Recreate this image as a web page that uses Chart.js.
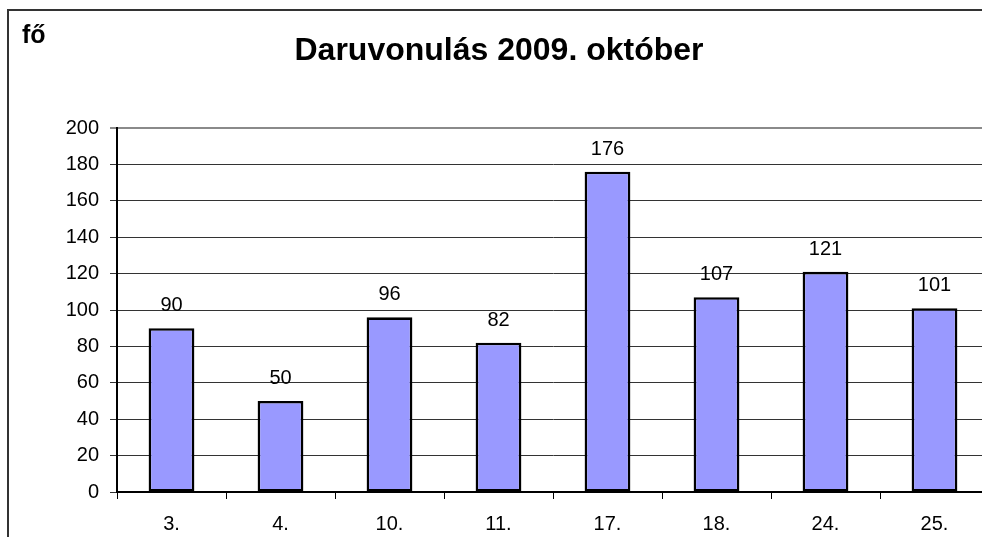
<!DOCTYPE html>
<html>
<head>
<meta charset="utf-8">
<script src="https://cdn.jsdelivr.net/npm/chart.js@4/dist/chart.umd.min.js"></script>
<style>
  html, body { margin: 0; padding: 0; background: #fff; overflow: hidden; width: 982px; height: 537px; }
  #frame { position: absolute; left: 7px; top: 9px; border-left: 2px solid #333; border-top: 2px solid #333; width: 1000px; height: 600px; }
  #c { position: absolute; left: 0; top: 0; }
</style>
</head>
<body>
<div id="frame"><canvas id="c" width="988" height="560"></canvas></div>
<script>
const categories = ['3.', '4.', '10.', '11.', '17.', '18.', '24.', '25.'];
const values = [90, 50, 96, 82, 176, 107, 121, 101];
const titleText = 'Daruvonulás 2009. október';
const unitLabel = 'fő';
const yMin = 0, yMax = 200, yStep = 20;

const FONT = "'Liberation Sans', Arial, sans-serif";

const labelPlugin = {
  id: 'barLabels',
  afterDatasetsDraw(chart) {
    const ctx = chart.ctx;
    const meta = chart.getDatasetMeta(0);
    ctx.save();
    ctx.font = '20px ' + FONT;
    ctx.fillStyle = '#000';
    ctx.textAlign = 'center';
    ctx.textBaseline = 'alphabetic';
    meta.data.forEach((bar, i) => {
      ctx.fillText(String(values[i]), bar.x, bar.y - 17);
    });
    ctx.restore();
  }
};

const unitPlugin = {
  id: 'unitLabel',
  afterDraw(chart) {
    const ctx = chart.ctx;
    ctx.save();
    ctx.font = 'bold 25px ' + FONT;
    ctx.fillStyle = '#000';
    ctx.textAlign = 'left';
    ctx.textBaseline = 'alphabetic';
    ctx.fillText(unitLabel, 13, 32);
    ctx.restore();
  }
};

new Chart(document.getElementById('c'), {
  type: 'bar',
  data: {
    labels: categories,
    datasets: [{
      data: values,
      backgroundColor: '#9999FF',
      borderColor: '#000',
      borderWidth: 2.6,
      borderSkipped: false,
      barPercentage: 0.42,
      categoryPercentage: 1.0
    }]
  },
  options: {
    responsive: false,
    devicePixelRatio: 1,
    animation: false,
    layout: { padding: { left: 0, right: 8, top: 0, bottom: 0 } },
    plugins: {
      legend: { display: false },
      tooltip: { enabled: false },
      title: {
        display: true,
        text: titleText,
        color: '#000',
        font: { family: FONT, size: 32, weight: 'bold', lineHeight: 1.25 },
        padding: { top: 20, bottom: 57 }
      }
    },
    scales: {
      x: {
        offset: true,
        afterFit(scale) { scale.height = 79; },
        grid: {
          offset: true,
          drawOnChartArea: false,
          drawTicks: true,
          tickLength: 7,
          color: '#000',
          lineWidth: 1
        },
        border: { display: true, color: '#000', width: 2 },
        ticks: {
          color: '#000',
          font: { family: FONT, size: 20 },
          padding: 13,
          maxRotation: 0,
          autoSkip: false
        }
      },
      y: {
        min: yMin,
        max: yMax,
        afterFit(scale) { scale.width = 108; },
        grid: {
          drawTicks: true,
          tickLength: 7,
          color: (c) => (c.tick && c.tick.value === yMax) ? '#8a8a8a' : '#333',
          lineWidth: (c) => (c.tick && c.tick.value === yMax) ? 2 : 1
        },
        border: { display: true, color: '#000', width: 2 },
        ticks: {
          stepSize: yStep,
          color: '#000',
          font: { family: FONT, size: 20 },
          padding: 11
        }
      }
    }
  },
  plugins: [labelPlugin, unitPlugin]
});
</script>
</body>
</html>
